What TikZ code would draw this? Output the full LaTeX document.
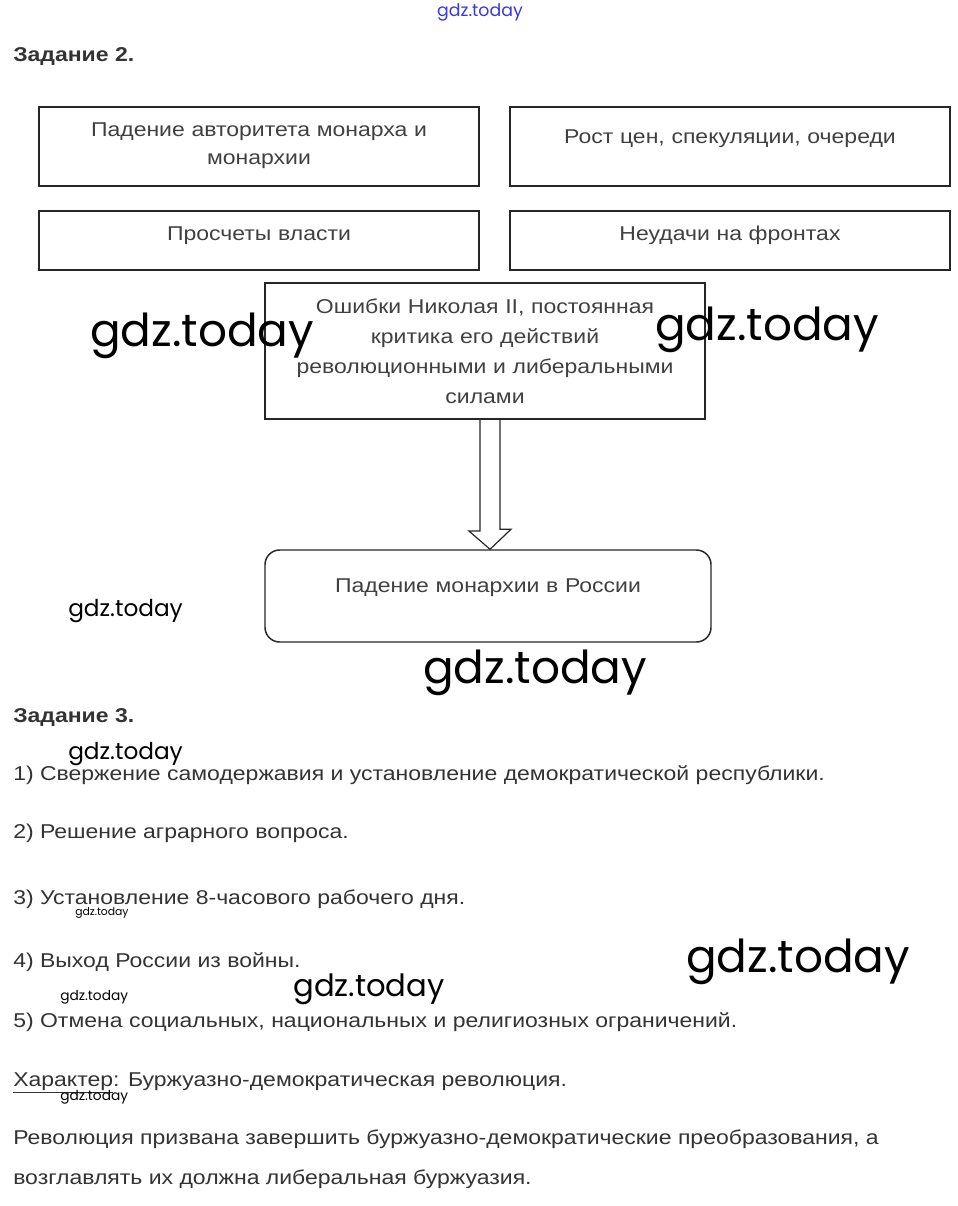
\documentclass[tikz,border=0pt]{standalone}
\usepackage{fontspec}
\setmainfont{Liberation Sans}[FakeStretch=1.15]
\newfontfamily\wmfont{Poppins}
\usetikzlibrary{calc}
\definecolor{ink}{HTML}{333333}
\definecolor{boxink}{HTML}{404040}
\definecolor{wmblue}{HTML}{3838E0}
\tikzset{
  cause/.style={draw=black!85, line width=1.6pt, minimum width=330pt, minimum height=59.25pt,
    text width=315pt, align=center, text=boxink, font=\fontsize{15}{21}\selectfont},
  bodyline/.style={anchor=base west, inner sep=0pt, text=ink, font=\fontsize{15}{18}\selectfont},
  heading/.style={anchor=base west, inner sep=0pt, text=ink, font=\bfseries\fontsize{15}{18}\selectfont},
  wmark/.style={anchor=base west, inner sep=0pt, text=black, font=\wmfont\fontsize{#1}{#1}\selectfont},
  hollow/.style={line width=0.9pt, draw=black!85}
}
\begin{document}
\begin{tikzpicture}[x=0.75pt, y=-0.75pt]
    \useasboundingbox (0, 0) rectangle (957, 1206);
    % task 2
    \node [anchor=center, text=wmblue, font=\wmfont\fontsize{13}{13}\selectfont] (wmtop) at (480, 12) {gdz.today};
    \node [heading] (head2) at (13, 62) {Задание 2.};
    \node [cause, text depth=25.5pt] (b1) at (259, 146.5) {Падение авторитета монарха и\\монархии};
    \node [cause, text depth=14.5pt] (b2) at (730, 146.5) {Рост цен, спекуляции, очереди};
    \node [cause, minimum height=44.25pt, text depth=10.5pt] (b3) at (259, 240.5) {Просчеты власти};
    \node [cause, minimum height=44.25pt, text depth=10.5pt] (b4) at (730, 240.5) {Неудачи на фронтах};
    \node [cause, minimum height=102pt, font=\fontsize{15}{22.5}\selectfont] (b5) at (485, 351)
        {Ошибки Николая II, постоянная\\критика его действий\\революционными и либеральными\\силами};
    \node [cause, line width=1.1pt, rounded corners=11pt, minimum width=334.5pt, minimum height=69pt, text depth=15.5pt] (b6) at (488, 596)
        {Падение монархии в России};
    \draw [hollow] ($(b5.south)+(-5, 0)$) -- ++(0, 111) -- ++(-11, 0) -- ($(b6.north)+(2, 0)$)
        -- ++(21, -20) -- ++(-11, 0) -- ++(0, -111);
    % task 3
    \node [heading] (head3) at (13, 722) {Задание 3.};
    \node [bodyline] (t1) at (13, 780) {1) Свержение самодержавия и установление демократической республики.};
    \node [bodyline] (t2) at (13, 838) {2) Решение аграрного вопроса.};
    \node [bodyline] (t3) at (13, 904) {3) Установление 8-часового рабочего дня.};
    \node [bodyline] (t4) at (13, 967) {4) Выход России из войны.};
    \node [bodyline] (t5) at (13, 1027) {5) Отмена социальных, национальных и религиозных ограничений.};
    \node [bodyline] (kind) at (13, 1086) {\underline{Характер}: Буржуазно-демократическая революция.};
    \node [bodyline] (note1) at (13, 1144) {Революция призвана завершить буржуазно-демократические преобразования, а};
    \node [bodyline] (note2) at (13, 1184) {возглавлять их должна либеральная буржуазия.};
    % watermarks
    \node [wmark=34] (wm1) at (90, 346) {gdz.today};
    \node [wmark=34] (wm2) at (655, 340) {gdz.today};
    \node [wmark=34] (wm3) at (423, 683) {gdz.today};
    \node [wmark=34] (wm4) at (686, 972) {gdz.today};
    \node [wmark=17.4] (wm5) at (68, 616) {gdz.today};
    \node [wmark=17.4] (wm6) at (68, 759) {gdz.today};
    \node [wmark=23] (wm7) at (293, 996) {gdz.today};
    \node [wmark=8.1] (wm8) at (75, 915) {gdz.today};
    \node [wmark=10.3] (wm9) at (60, 1000) {gdz.today};
    \node [wmark=10.3] (wm10) at (60, 1100) {gdz.today};
\end{tikzpicture}
\end{document}
